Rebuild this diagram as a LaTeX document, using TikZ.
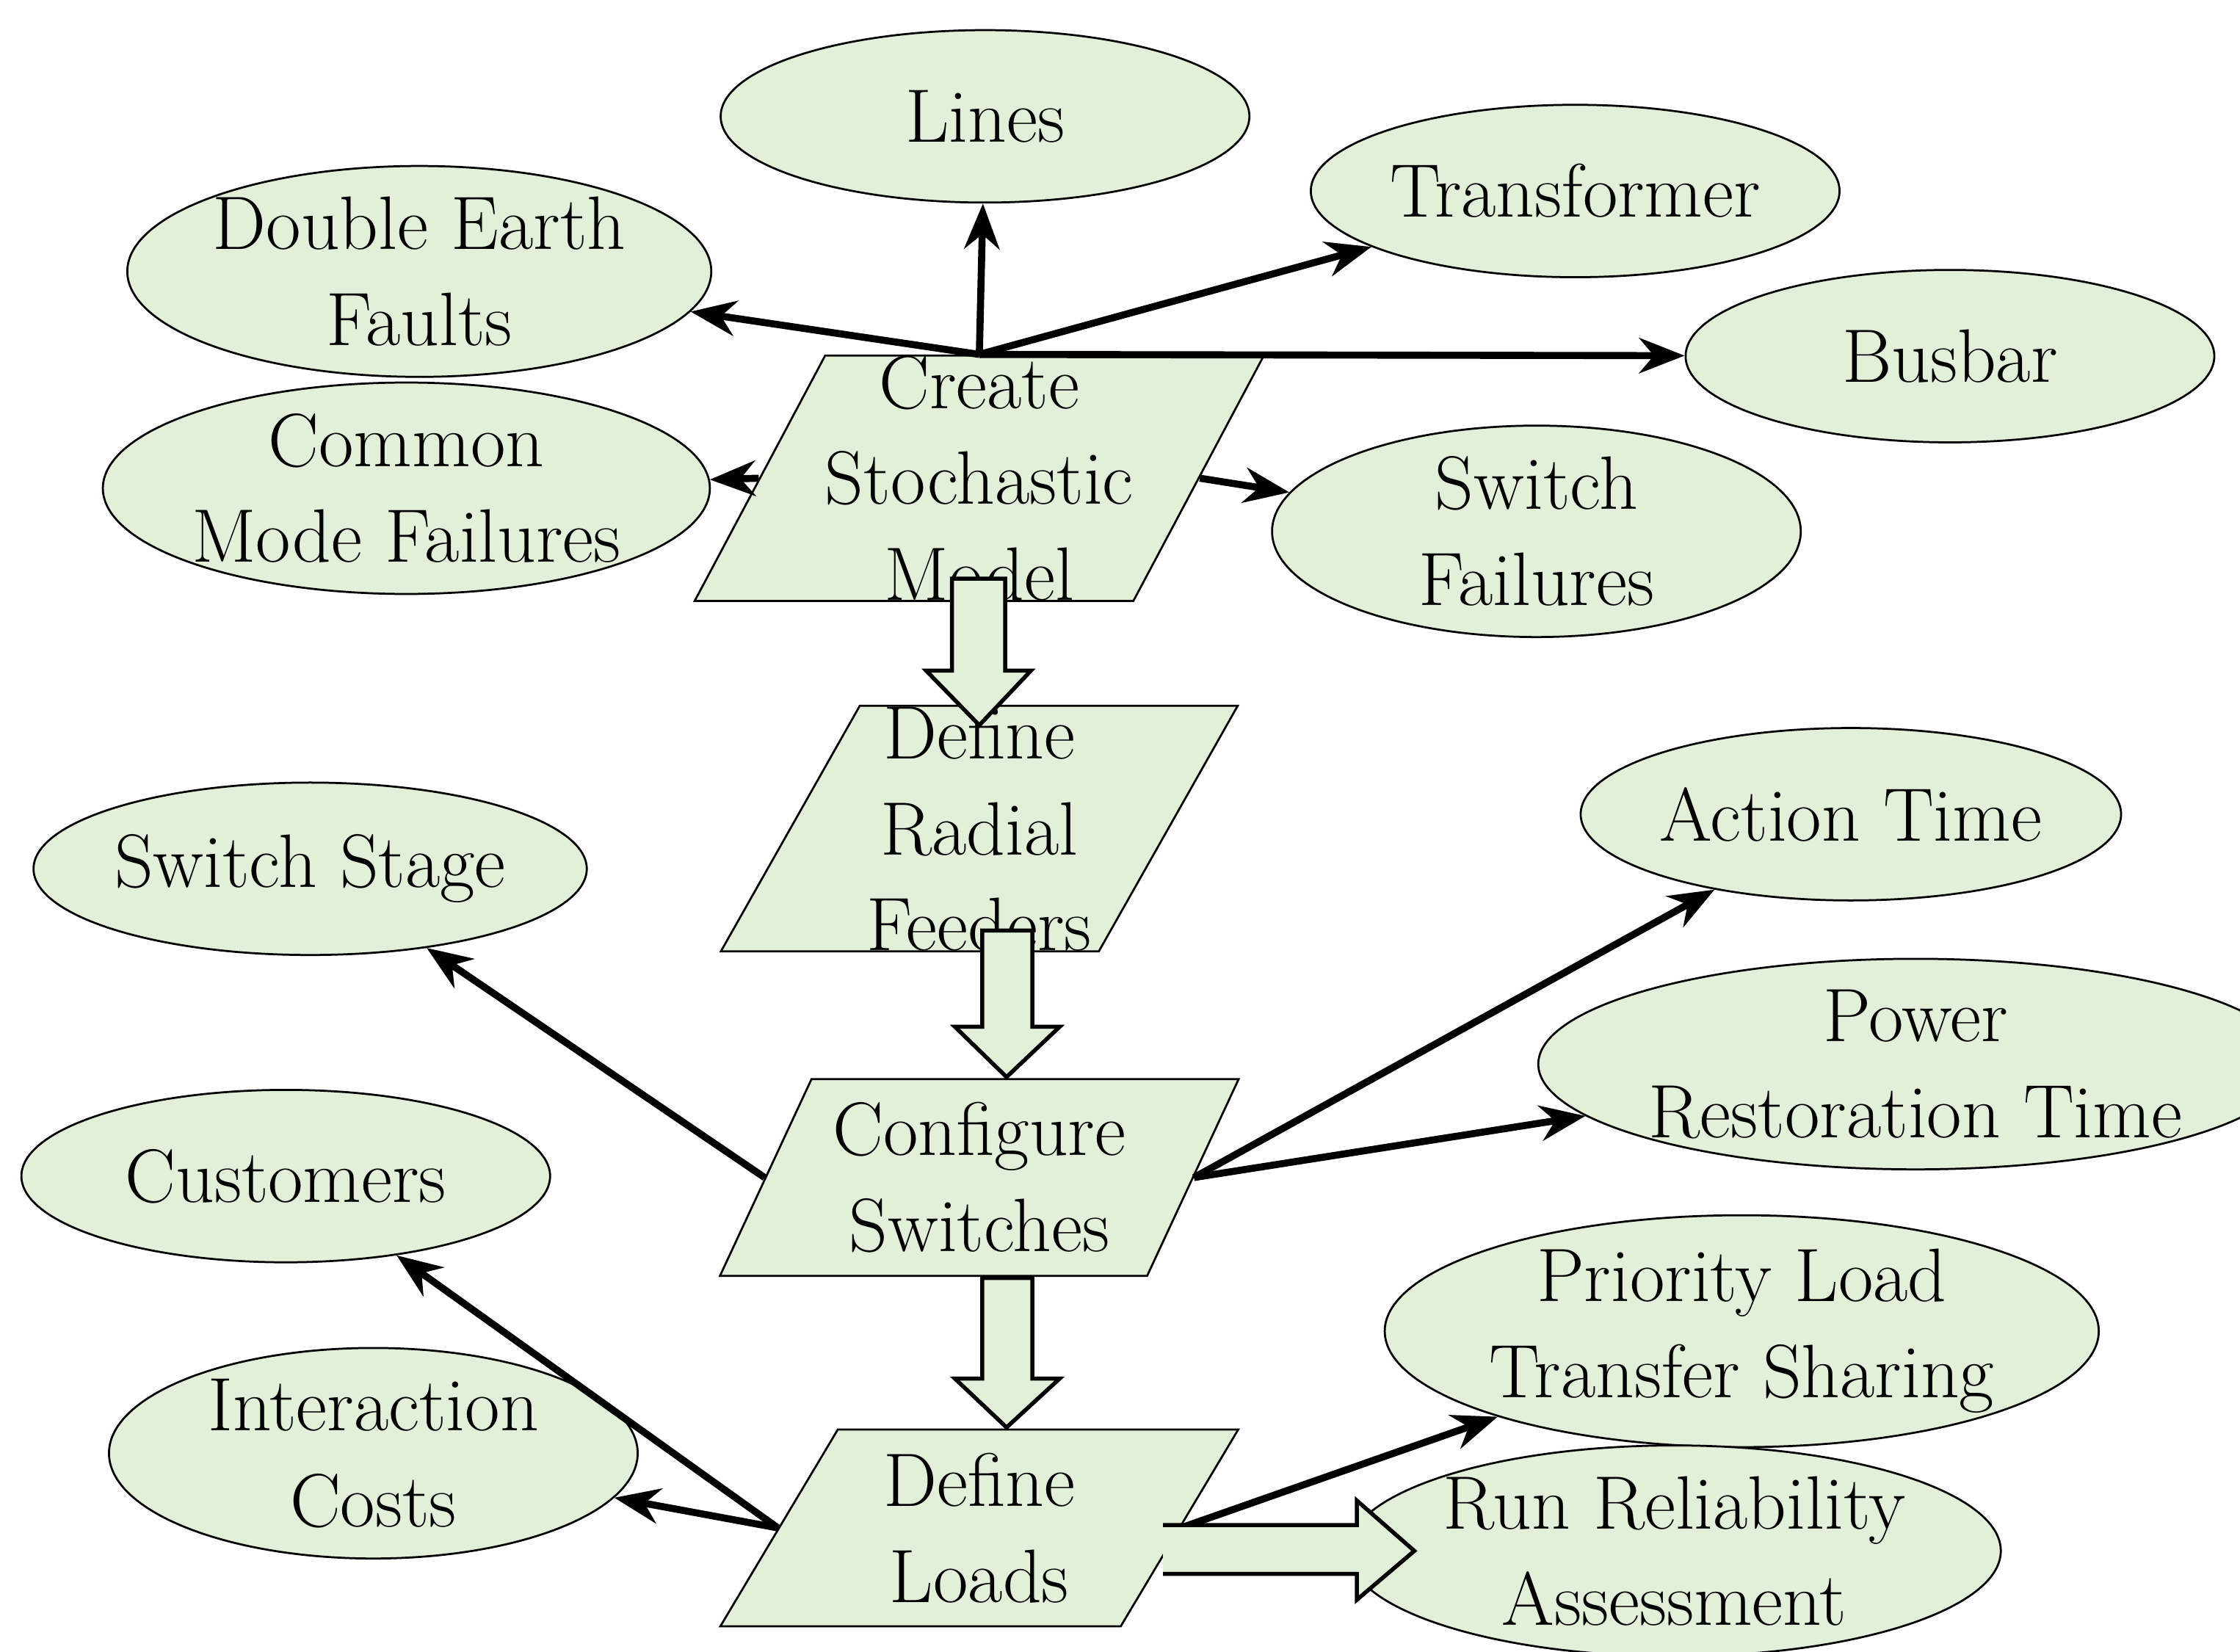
\documentclass[tikz,border=0pt]{standalone}
\usepackage{tikz}
\usetikzlibrary{arrows.meta,shapes.geometric}
\definecolor{boxgreen}{HTML}{E2F0D9}
\begin{document}
\begin{tikzpicture}[x=0.01cm,y=-0.01cm,
    item/.style={ellipse,draw,fill=boxgreen,minimum width=3.68cm,minimum height=1.2cm,
      align=center,font=\fontsize{15}{19}\selectfont,inner sep=0pt},
    stage/.style={trapezium,trapezium left angle=62,trapezium right angle=118,
      trapezium stretches=true,draw,fill=boxgreen,minimum width=3.63cm,minimum height=1.37cm,
      align=center,font=\fontsize{15}{19}\selectfont,inner sep=0pt},
    link/.style={-{Stealth[length=9pt,width=7pt]},line width=1.4pt},
    big/.style={draw,fill=boxgreen,line width=0.8pt}]
    \useasboundingbox (0,0) rectangle (1560,1150);
    \node[stage] (cs) at (682,333) {Create\\Stochastic\\Model};
    \node[stage] (rf) at (682,577) {Define\\Radial\\Feeders};
    \node[stage] (cf) at (682,820) {Configure\\Switches};
    \node[stage] (dl) at (682,1064) {Define\\Loads};
    \node[item] (li) at (686,81) {Lines};
    \node[item] (tr) at (1097,133) {Transformer};
    \node[item] (de) at (292,189) {Double Earth\\Faults};
    \node[item] (bb) at (1358,248) {Busbar};
    \node[item] (cm) at (283,340) {Common\\Mode Failures};
    \node[item] (sf) at (1070,370) {Switch\\Failures};
    \node[item] (ss) at (216,605) {Switch Stage};
    \node[item] (at) at (1289,567) {Action Time};
    \node[item,minimum width=4.16cm] (pr) at (1334,741) {Power\\Restoration Time};
    \node[item] (cu) at (199,819) {Customers};
    \node[item,minimum width=4.22cm] (pl) at (1213,927) {Priority Load\\Transfer Sharing};
    \node[item] (ic) at (260,1012) {Interaction\\Costs};
    \node[item] (ra) at (1166,1080) {Run Reliability\\Assessment};
    % thin connectors
    \draw[link] (cs.north) -- (de);
    \draw[link] (cs.north) -- (li);
    \draw[link] (cs.north) -- (tr);
    \draw[link] (cs.north) -- (bb);
    \draw[link] (cs.west) -- (cm);
    \draw[link] (cs.east) -- (sf);
    \draw[link] (cf.west) -- (ss);
    \draw[link] (cf.east) -- (at);
    \draw[link] (cf.east) -- (pr);
    \draw[link] (dl.west) -- (cu);
    \draw[link] (dl.west) -- (ic);
    \draw[link] (dl.east) -- (pl);
    % block arrows
    \draw[big] (663,403) -- (700,403) -- (700,467) -- (718,467) -- (682,505) -- (645,467) -- (663,467) -- cycle;
    \draw[big] (684,648) -- (719,648) -- (719,715) -- (738,715) -- (701,750) -- (665,715) -- (684,715) -- cycle;
    \draw[big] (684,890) -- (719,890) -- (719,960) -- (738,960) -- (701,994) -- (665,960) -- (684,960) -- cycle;
    \draw[big] (810,1062) -- (945,1062) -- (945,1045) -- (985,1080) -- (945,1114) -- (945,1096) -- (810,1096);
\end{tikzpicture}
\end{document}
